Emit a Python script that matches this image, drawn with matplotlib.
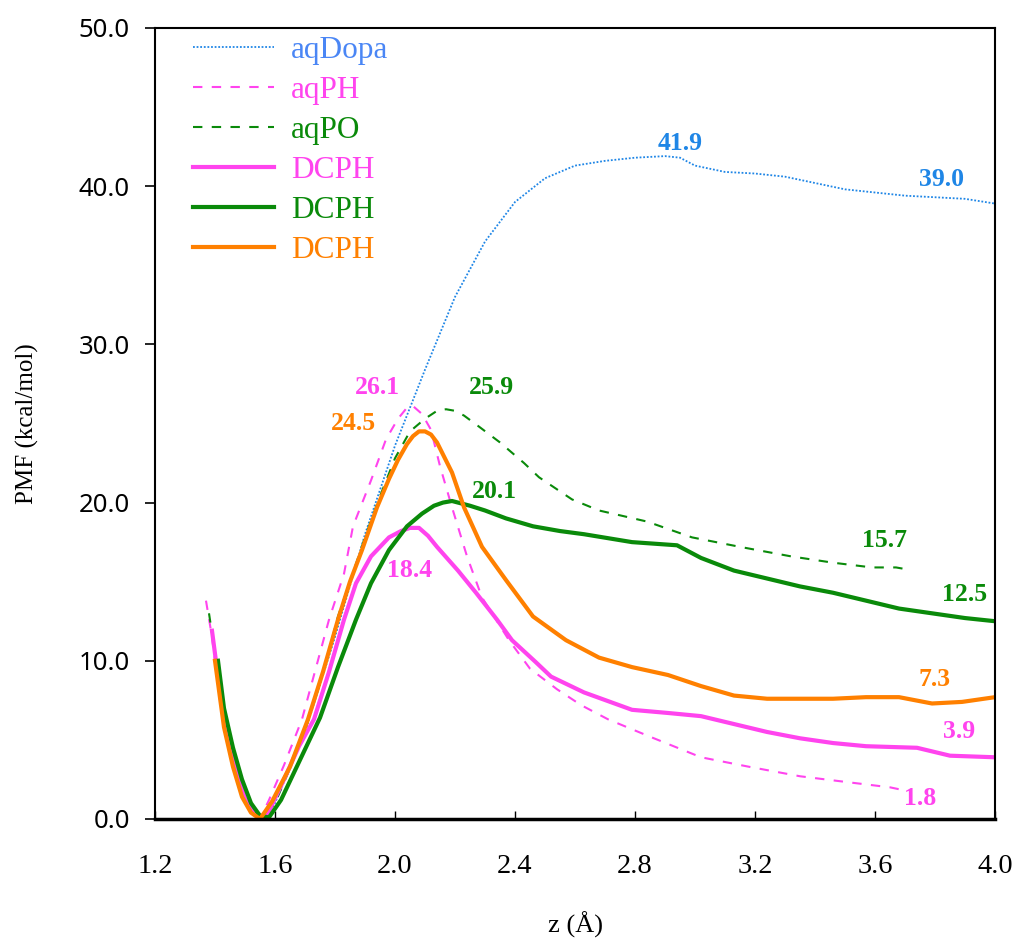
"""PMF profiles along z for the aq* and DCPH systems."""
import matplotlib
matplotlib.use('Agg')
import matplotlib.pyplot as plt

# ---- data ----
dopa_x = [1.40, 1.45, 1.50, 1.55, 1.60, 1.70, 1.80, 1.90, 2.00, 2.10, 2.20, 2.30,
          2.40, 2.50, 2.60, 2.70, 2.80, 2.90, 2.95, 3.00, 3.10, 3.20, 3.30, 3.40,
          3.50, 3.60, 3.70, 3.80, 3.90, 4.00]
dopa_y = [10.0, 4.5, 1.2, 0.0, 1.0, 5.5, 11.5, 18.0, 23.6, 28.4, 33.0, 36.5,
          39.0, 40.5, 41.3, 41.6, 41.8, 41.9, 41.8, 41.3, 40.9, 40.8, 40.6, 40.2,
          39.8, 39.6, 39.4, 39.3, 39.2, 38.9]

ph_x = [1.37, 1.39, 1.42, 1.46, 1.50, 1.55, 1.58, 1.63, 1.69, 1.74, 1.78, 1.83,
        1.86, 1.92, 1.97, 2.01, 2.04, 2.06, 2.09, 2.12, 2.15, 2.19, 2.24, 2.29,
        2.38, 2.45, 2.54, 2.62, 2.71, 2.85, 3.02, 3.18, 3.35, 3.52, 3.65, 3.70]
ph_y = [13.8, 11.5, 7.0, 3.3, 1.0, 0.0, 1.2, 3.4, 6.3, 9.8, 12.6, 15.5,
        18.5, 21.4, 24.0, 25.3, 26.0, 26.1, 25.6, 24.6, 22.3, 19.7, 16.6, 14.0,
        11.3, 9.5, 8.2, 7.2, 6.3, 5.2, 3.9, 3.3, 2.7, 2.3, 2.0, 1.8]

po_x = [1.38, 1.40, 1.43, 1.47, 1.51, 1.56, 1.60, 1.65, 1.71, 1.76, 1.81, 1.85,
        1.90, 1.95, 2.00, 2.05, 2.10, 2.14, 2.17, 2.20, 2.23, 2.28, 2.35, 2.43,
        2.48, 2.59, 2.68, 2.84, 2.99, 3.15, 3.32, 3.46, 3.59, 3.67, 3.70]
po_y = [13.0, 10.5, 6.5, 3.0, 0.8, 0.0, 1.0, 3.2, 6.2, 9.2, 12.8, 15.0,
        17.8, 20.4, 22.8, 24.5, 25.3, 25.8, 25.9, 25.8, 25.5, 24.8, 23.8, 22.5,
        21.6, 20.2, 19.5, 18.8, 17.8, 17.2, 16.6, 16.2, 15.9, 15.9, 15.8]

dcph_m_x = [1.39, 1.41, 1.44, 1.47, 1.50, 1.53, 1.56, 1.58, 1.63, 1.68, 1.73, 1.78,
            1.83, 1.87, 1.92, 1.98, 2.02, 2.05, 2.08, 2.11, 2.14, 2.21, 2.27, 2.34,
            2.39, 2.47, 2.52, 2.63, 2.79, 2.91, 3.02, 3.13, 3.24, 3.35, 3.46, 3.57,
            3.74, 3.85, 4.00]
dcph_m_y = [11.9, 9.0, 5.5, 3.0, 1.3, 0.3, 0.0, 0.5, 2.5, 4.6, 6.3, 9.3,
            12.6, 14.9, 16.6, 17.8, 18.2, 18.4, 18.4, 17.9, 17.2, 15.7, 14.3, 12.6,
            11.3, 9.9, 9.0, 8.0, 6.9, 6.7, 6.5, 6.0, 5.5, 5.1, 4.8, 4.6,
            4.5, 4.0, 3.9]

dcph_g_x = [1.41, 1.43, 1.46, 1.49, 1.52, 1.55, 1.58, 1.62, 1.68, 1.75, 1.81, 1.87,
            1.92, 1.98, 2.04, 2.09, 2.13, 2.16, 2.19, 2.25, 2.30, 2.37, 2.46, 2.55,
            2.63, 2.79, 2.94, 3.02, 3.13, 3.24, 3.35, 3.46, 3.57, 3.68, 3.79, 3.90,
            4.00]
dcph_g_y = [10.0, 7.0, 4.5, 2.5, 1.0, 0.2, 0.1, 1.2, 3.6, 6.4, 9.6, 12.6,
            14.9, 17.0, 18.5, 19.3, 19.8, 20.0, 20.1, 19.8, 19.5, 19.0, 18.5, 18.2,
            18.0, 17.5, 17.3, 16.5, 15.7, 15.2, 14.7, 14.3, 13.8, 13.3, 13.0, 12.7,
            12.5]

dcph_o_x = [1.40, 1.43, 1.46, 1.49, 1.52, 1.55, 1.59, 1.65, 1.71, 1.76, 1.81, 1.85,
            1.89, 1.94, 1.98, 2.01, 2.04, 2.06, 2.08, 2.10, 2.12, 2.14, 2.19, 2.23,
            2.29, 2.37, 2.46, 2.57, 2.68, 2.79, 2.91, 3.02, 3.13, 3.24, 3.35, 3.46,
            3.57, 3.68, 3.79, 3.89, 4.00]
dcph_o_y = [10.0, 5.8, 3.3, 1.4, 0.4, 0.0, 1.1, 3.3, 6.3, 9.3, 12.6, 15.0,
            17.0, 19.7, 21.5, 22.7, 23.7, 24.2, 24.5, 24.5, 24.3, 23.8, 21.9, 19.7,
            17.2, 15.1, 12.8, 11.3, 10.2, 9.6, 9.1, 8.4, 7.8, 7.6, 7.6, 7.6,
            7.7, 7.7, 7.3, 7.4, 7.7]

# value labels: (text, x, y, colour key)
notes = [
    ('41.9', 2.95, 42.7, 'blue'), ('39.0', 3.82, 40.4, 'blue'),
    ('26.1', 1.94, 27.3, 'mag'), ('25.9', 2.32, 27.3, 'green'),
    ('24.5', 1.86, 25.0, 'orange'), ('20.1', 2.33, 20.7, 'green'),
    ('18.4', 2.05, 15.7, 'mag'), ('15.7', 3.63, 17.6, 'green'),
    ('12.5', 3.90, 14.2, 'green'), ('7.3', 3.80, 8.8, 'orange'),
    ('3.9', 3.88, 5.5, 'mag'), ('1.8', 3.75, 1.3, 'mag'),
]

colors = {'blue': '#1f86e6', 'mag': '#ff44ee', 'green': '#0a8a0a', 'orange': '#ff8000'}
legend_text_colors = ['#4a86f5', '#ff44ee', '#0a8a0a', '#ff44ee', '#0a8a0a', '#ff8000']
xticks = [1.2, 1.6, 2.0, 2.4, 2.8, 3.2, 3.6, 4.0]
yticks = [0, 10, 20, 30, 40, 50]


def main():
    plt.rcParams['font.family'] = ['Liberation Serif', 'DejaVu Serif']
    fig = plt.figure(figsize=(10.17, 9.42), dpi=100)
    ax = fig.add_axes([0.1524, 0.1306, 0.8260, 0.8397])

    ax.plot(dopa_x, dopa_y, color=colors['blue'], lw=1.3, ls=(0, (1, 1)), label='aqDopa')
    ax.plot(ph_x, ph_y, color=colors['mag'], lw=1.5, ls=(0, (4.5, 4.5)), label='aqPH')
    ax.plot(po_x, po_y, color=colors['green'], lw=1.5, ls=(0, (4.5, 4.5)), label='aqPO')
    ax.plot(dcph_m_x, dcph_m_y, color=colors['mag'], lw=3, label='DCPH')
    ax.plot(dcph_g_x, dcph_g_y, color=colors['green'], lw=3, label='DCPH')
    ax.plot(dcph_o_x, dcph_o_y, color=colors['orange'], lw=3, label='DCPH')

    for txt, x, y, c in notes:
        ax.text(x, y, txt, color=colors[c], fontsize=18.5, fontweight='bold',
                ha='center', va='center')

    ax.set_xlim(1.2, 4.0)
    ax.set_ylim(0, 50)
    ax.set_xticks(xticks)
    ax.set_xticklabels(['%.1f' % v for v in xticks], fontsize=20.5)
    ax.set_yticks(yticks)
    ax.set_yticklabels(['%.1f' % v for v in yticks], fontsize=18.5, family='Noto Sans')
    ax.tick_params(axis='x', direction='in', length=6, width=1, pad=25)
    ax.tick_params(axis='y', direction='out', length=7, width=1.2, pad=11)
    for s in ax.spines.values():
        s.set_linewidth(1.5)
    ax.spines['bottom'].set_linewidth(2.5)

    ax.set_xlabel('z (Å)', fontsize=19)
    ax.xaxis.set_label_coords(0.5, -0.117)
    ax.set_ylabel('PMF (kcal/mol)', fontsize=18)
    ax.yaxis.set_label_coords(-0.138, 0.5)

    leg = ax.legend(loc='upper left', bbox_to_anchor=(0.045, 0.99), frameon=False,
                    fontsize=22.5, handlelength=2.6, handletextpad=0.55,
                    labelspacing=0.35, borderpad=0, borderaxespad=0)
    for t, c in zip(leg.get_texts(), legend_text_colors):
        t.set_color(c)

    fig.savefig('out.png', dpi=100)


if __name__ == '__main__':
    main()
